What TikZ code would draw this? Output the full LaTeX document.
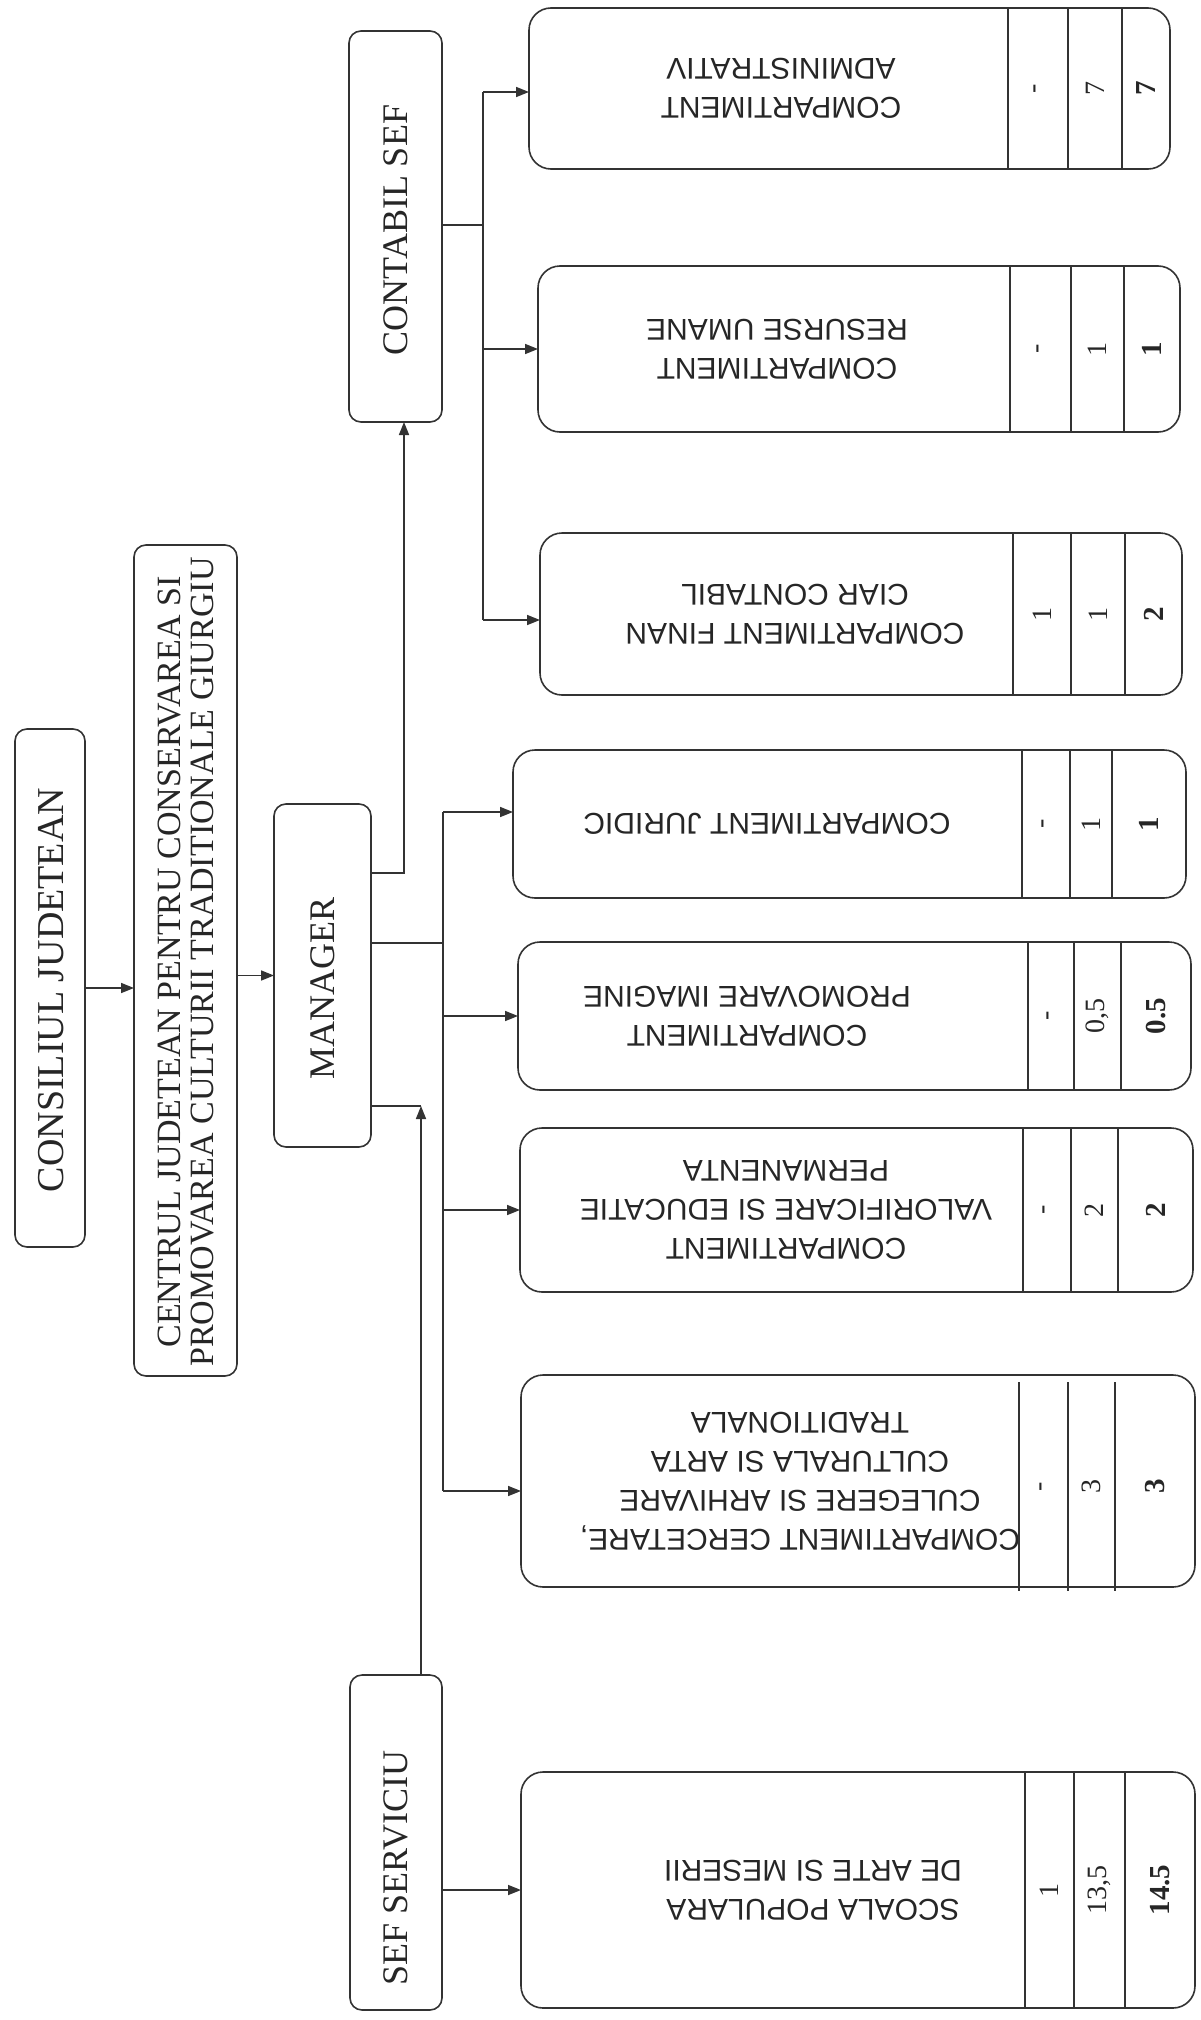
\documentclass[tikz,border=0pt]{standalone}
\usepackage{fontspec}
\setmainfont{Liberation Serif}
\newfontfamily\arialf{Liberation Sans}
\usetikzlibrary{arrows.meta,calc}
\tikzset{
 ln/.style={draw=black!80, line width=1.6pt},
 topbox/.style={ln, rounded corners=12pt, inner sep=0pt, outer sep=0pt},
 lowbox/.style={ln, rounded corners=22pt, inner sep=0pt, outer sep=0pt},
 toptext/.style={rotate=90, font=\fontsize{36}{34}\selectfont, text=black!85, align=center, inner sep=0pt},
 lowtext/.style={rotate=180, font=\arialf\fontsize{30}{39}\selectfont, text=black!85, align=center, inner sep=0pt},
 numtext/.style={rotate=90, font=\fontsize{28}{30}\selectfont, text=black!85, inner sep=0pt},
 arr/.style={ln, -{Triangle[length=13pt,width=10pt]}},
}
% top-level box: name, left, top, right, bottom
\newcommand\tbox[5]{%
 \node[topbox, minimum width={#4-#2}, minimum height={#5-#3}] (#1) at ({(#2+#4)/2},{(#3+#5)/2}) {};}
% lower box: name, left, top, right, bottom, text x, text
\newcommand\lbox[7]{%
 \node[lowbox, minimum width={#4-#2}, minimum height={#5-#3}] (#1) at ({(#2+#4)/2},{(#3+#5)/2}) {};
 \node[lowtext] at (#6,{(#3+#5)/2}) {#7};}
% columns: top, bottom, d1, d2, d3, right, n1, n2, n3
\newcommand\lcols[9]{%
 \draw[ln] (#3,#1) -- (#3,#2);
 \draw[ln] (#4,#1) -- (#4,#2);
 \draw[ln] (#5,#1) -- (#5,#2);
 \node[numtext] at ({(#3+#4)/2},{(#1+#2)/2}) {#7};
 \node[numtext] at ({(#4+#5)/2},{(#1+#2)/2}) {#8};
 \node[numtext, font=\fontsize{29}{30}\selectfont\bfseries] at ({(#5+#6)/2},{(#1+#2)/2}) {#9};}
\begin{document}
\begin{tikzpicture}[x=1pt,y=-1pt]
\fill[white] (0,0) rectangle (1201,2020);
\useasboundingbox (0,0) rectangle (1201,2020);

% top-level boxes
\tbox{cons}{15}{729}{85}{1247}
\node[toptext, font=\fontsize{38}{36}\selectfont] at (51,990) {CONSILIUL JUDETEAN};
\tbox{centru}{134}{545}{237}{1376}
\node[toptext, font=\fontsize{34}{33}\selectfont] at (186,962) {CENTRUL JUDETEAN PENTRU CONSERVAREA SI\\PROMOVAREA CULTURII TRADITIONALE GIURGIU};
\tbox{manager}{274}{804}{371}{1147}
\node[toptext] at (323,988) {MANAGER};
\tbox{contabil}{349}{31}{442}{422}
\node[toptext] at (396,230) {CONTABIL SEF};
\tbox{sef}{350}{1675}{442}{2010}
\node[toptext] at (396,1868) {SEF SERVICIU};

% lower boxes
\lbox{admin}{529}{8}{1170}{169}{781}{COMPARTIMENT\\ADMINISTRATIV}
\lcols{8}{169}{1008}{1068}{1122}{1170}{-}{7}{7}
\lbox{resurse}{538}{266}{1180}{432}{777}{COMPARTIMENT\\RESURSE UMANE}
\lcols{266}{432}{1010}{1071}{1124}{1180}{-}{1}{1}
\lbox{finan}{540}{533}{1182}{695}{795}{COMPARTIMENT FINAN\\CIAR CONTABIL}
\lcols{533}{695}{1013}{1071}{1125}{1182}{1}{1}{2}
\lbox{jur}{513}{750}{1186}{898}{767}{COMPARTIMENT JURIDIC}
\lcols{750}{898}{1022}{1070}{1112}{1186}{-}{1}{1}
\lbox{prom}{518}{942}{1191}{1090}{747}{COMPARTIMENT\\PROMOVARE IMAGINE}
\lcols{942}{1090}{1028}{1074}{1121}{1191}{-}{0,5}{0.5}
\lbox{valor}{520}{1128}{1193}{1292}{786}{COMPARTIMENT\\VALORIFICARE SI EDUCATIE\\PERMANENTA}
\lcols{1128}{1292}{1023}{1071}{1118}{1193}{-}{2}{2}
\lbox{cerc}{521}{1375}{1195}{1587}{800}{COMPARTIMENT CERCETARE,\\CULEGERE SI ARHIVARE\\CULTURALA SI ARTA\\TRADITIONALA}
\lcols{1382}{1591}{1019}{1068}{1115}{1195}{-}{3}{3}
\lbox{scoala}{521}{1772}{1195}{2008}{813}{SCOALA POPULARA\\DE ARTE SI MESERII}
\lcols{1772}{2008}{1025}{1074}{1125}{1195}{1}{13,5}{14.5}

% connectors
\draw[arr] (cons.east) -- (cons.east -| centru.west);
\draw[arr] (centru.east |- manager.west) -- (manager.west);

\coordinate (mc) at (404,873);
\draw[arr] (manager.east |- mc) -- (mc) -- (mc |- contabil.south);

\coordinate (tk) at (443,943);
\coordinate (tktop) at (443,812);
\coordinate (tkbot) at (443,1491);
\draw[ln] (manager.east |- tk) -- (tk);
\draw[ln] (tktop) -- (tkbot);
\draw[arr] (tktop) -- (tktop -| jur.west);
\draw[arr] (tk |- prom.west) -- (prom.west);
\draw[arr] (tk |- valor.west) -- (valor.west);
\draw[arr] (tkbot) -- (tkbot -| cerc.west);

\coordinate (sc) at (421,1106);
\draw[ln] (manager.east |- sc) -- (sc);
\draw[arr] (sc |- sef.north) -- (sc);
\draw[arr] (sef.east |- scoala.west) -- (scoala.west);

\coordinate (ck) at (483,225);
\coordinate (cktop) at (483,92);
\coordinate (ckbot) at (483,620);
\draw[ln] (contabil.east |- ck) -- (ck);
\draw[ln] (cktop) -- (ckbot);
\draw[arr] (cktop) -- (cktop -| admin.west);
\draw[arr] (ck |- resurse.west) -- (resurse.west);
\draw[arr] (ckbot) -- (ckbot -| finan.west);
\end{tikzpicture}
\end{document}
